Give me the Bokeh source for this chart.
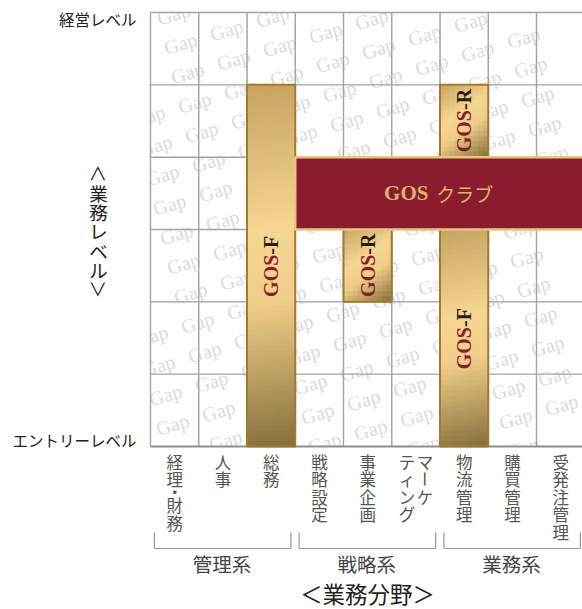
import math
from bokeh.plotting import figure
from bokeh.models import Range1d
from bokeh.core.properties import value
from bokeh.embed import file_html
from bokeh.resources import INLINE

# ---------------- data ----------------
categories = ["経理・財務", "人事", "総務", "戦略設定", "事業企画",
              "マーケティング", "物流管理", "購買管理", "受発注管理"]
# vertical (tategaki) columns per category, right column first
category_columns = {"マーケティング": ["マーケ", "ティング"]}
n_levels = 6
level_top_label = "経営レベル"
level_bottom_label = "エントリーレベル"
level_axis_title = "＜業務レベル＞"
x_axis_title = "＜業務分野＞"
groups = ["管理系", "戦略系", "業務系"]
group_first = ["経理・財務", "戦略設定", "物流管理"]
group_last = ["総務", "マーケティング", "受発注管理"]

bar_prefix = ["GOS", "GOS", "GOS", "GOS"]
bar_suffix = ["-F", "-R", "-R", "-F"]
bar_category = ["総務", "事業企画", "物流管理", "物流管理"]
bar_low = [0, 2, 4, 0]
bar_high = [5, 3, 5, 3]

club_prefix = "GOS"
club_suffix = "クラブ"
club_from = "戦略設定"
club_to = "受発注管理"
club_low = 3
club_high = 4

watermark_word = "Gap"

# ---------------- layout ----------------
W, H = 582, 609
PXU = 48.25     # px per category
PYU = 72.33     # px per level
GX, GY = 150.0, 446.0   # px of grid origin
X0 = (0 - GX) / PXU
X1 = X0 + W / PXU
Y1 = (GY - 0) / PYU
Y0 = Y1 - H / PYU

def dx(px):
    return (px - GX) / PXU

def dy(py):
    return (GY - py) / PYU

ci = {c: i for i, c in enumerate(categories)}
ncat = len(categories)

p = figure(width=W, height=H, x_range=Range1d(X0, X1), y_range=Range1d(Y0, Y1),
           output_backend="svg", toolbar_location=None,
           x_axis_location=None, y_axis_location=None, min_border=0,
           outline_line_color=None, background_fill_color="white",
           border_fill_color="white")

# ---------------- watermark texture ----------------
wx, wy = [], []
for j in range(-25, 30):
    for i in range(-10, 25):
        X = 180 + i * 46 + j * 7
        Y = 43 - i * 13.5 + j * 29.5
        if X - 18 > 128 and X + 18 < W - 1 and Y - 12 > 1 and Y + 12 < 468:
            wx.append(dx(X)); wy.append(dy(Y))
p.text(x=wx, y=wy, text=[watermark_word] * len(wx), angle=0.29,
       text_font=value("Liberation Serif"), text_font_size="20px",
       text_color="#dcdcdc", text_align="center", text_baseline="middle")

# mask outside grid
p.quad(left=[X0 - 1, 0, 0], right=[0, X1 + 1, X1 + 1],
       bottom=[Y0 - 1, n_levels, Y0 - 1], top=[Y1 + 1, Y1 + 1, 0],
       fill_color="white", line_color=None)

# ---------------- grid ----------------
vx0, vy0, vx1, vy1 = [], [], [], []
for k in range(ncat + 1):
    vx0.append(k); vx1.append(k); vy0.append(0); vy1.append(n_levels)
for k in range(1, n_levels + 1):
    vx0.append(0); vx1.append(ncat); vy0.append(k); vy1.append(k)
p.segment(x0=vx0, y0=vy0, x1=vx1, y1=vy1, line_color="#a3a3a3", line_width=1.4)
p.segment(x0=[0], y0=[0], x1=[ncat], y1=[0], line_color="#8e8e8e", line_width=2)

# ---------------- gold bars ----------------
stops = [(0.0, (196, 164, 96)), (0.4, (246, 214, 144)),
         (0.6, (241, 206, 137)), (1.0, (133, 112, 60))]

def grad(t):
    t = min(max(t, 0.0), 1.0)
    for (t0, c0), (t1, c1) in zip(stops[:-1], stops[1:]):
        if t <= t1:
            f = (t - t0) / (t1 - t0)
            return "#%02x%02x%02x" % tuple(int(round(a + (b - a) * f)) for a, b in zip(c0, c1))
    return "#%02x%02x%02x" % stops[-1][1]

gl, gr, gb, gt, gc = [], [], [], [], []
bl, br, bb, bt = [], [], [], []
for cat, lo, hi in zip(bar_category, bar_low, bar_high):
    x0 = ci[cat]; x1 = x0 + 1
    w = (x1 - x0) * PXU; h = (hi - lo) * PYU
    nx = max(4, int(round(w / 5))); ny = max(6, int(round(h / 5)))
    for a in range(nx):
        for b in range(ny):
            cxp = (a + 0.5) * w / nx; cyp = (b + 0.5) * h / ny
            t = (cxp * w + cyp * h) / (w * w + h * h)
            gl.append(x0 + a * (x1 - x0) / nx); gr.append(x0 + (a + 1) * (x1 - x0) / nx)
            gt.append(hi - b * (hi - lo) / ny); gb.append(hi - (b + 1) * (hi - lo) / ny)
            gc.append(grad(t))
    bl.append(x0); br.append(x1); bb.append(lo); bt.append(hi)
p.quad(left=gl, right=gr, bottom=gb, top=gt, fill_color=gc, line_color=gc, line_width=1)
p.quad(left=bl, right=br, bottom=bb, top=bt, fill_color=None,
       line_color="#a37a2e", line_width=2)

# ---------------- club ----------------
cl = ci[club_from]; cr = ci[club_to] + 1
p.quad(left=[cl], right=[cr], bottom=[club_low], top=[club_high],
       fill_color="#8b1c2f", line_color="#e8c680", line_width=2.5)
ccx = (cl + cr) / 2; ccy = (club_low + club_high) / 2
p.text(x=[ccx - 0.24], y=[ccy], text=[club_prefix], text_font=value("Liberation Serif"),
       text_font_style="bold", text_font_size="21px", text_color="#d9b46b",
       text_align="right", text_baseline="middle")
p.text(x=[ccx - 0.08], y=[ccy], text=[club_suffix], text_font=value("Noto Sans CJK JP"),
       text_font_size="19px", text_color="#d9b46b",
       text_align="left", text_baseline="middle")

# bar labels (vertical, reading upward)
lx, ly = [], []
for cat, lo, hi in zip(bar_category, bar_low, bar_high):
    lx.append(ci[cat] + 0.5)
    ly.append((lo + hi) / 2 + 11 / PYU)
p.text(x=lx, y=ly, text=bar_prefix, angle=math.pi / 2,
       text_font=value("Liberation Serif"), text_font_style="bold",
       text_font_size="20px", text_color="#8b1c2f",
       text_align="right", text_baseline="middle")
p.text(x=lx, y=ly, text=bar_suffix, angle=math.pi / 2,
       text_font=value("Liberation Serif"), text_font_style="bold",
       text_font_size="20px", text_color="#2a1c12",
       text_align="left", text_baseline="middle")

# ---------------- left labels ----------------
p.text(x=[dx(136)], y=[dy(18)], text=[level_top_label], text_font=value("Noto Sans CJK JP"),
       text_font_size="15.5px", text_color="#222222", text_align="right", text_baseline="middle")
p.text(x=[dx(136)], y=[dy(439)], text=[level_bottom_label], text_font=value("Noto Sans CJK JP"),
       text_font_size="15.5px", text_color="#222222", text_align="right", text_baseline="middle")

def stack(s, x, y_start_px, step_px, half=("・",), rot=("ー", "＜", "＞")):
    xs, ys, ts, angs = [], [], [], []
    ypx = y_start_px
    prev_half = False
    for k, ch in enumerate(s):
        hf = ch in half
        if k > 0:
            if hf or prev_half:
                ypx += step_px * 0.75
            else:
                ypx += step_px
        xs.append(x); ys.append(dy(ypx)); ts.append(ch)
        angs.append(-math.pi / 2 if ch in rot else 0.0)
        prev_half = hf
    return xs, ys, ts, angs

tx, ty, tt, ta = stack(level_axis_title, dx(98), 173, 19.3)
p.text(x=tx, y=ty, text=tt, angle=ta, text_font=value("Noto Sans CJK JP"),
       text_font_size="18.5px", text_color="#222222", text_align="center", text_baseline="middle")

# ---------------- category labels ----------------
cx_, cy_, ct_, ca_ = [], [], [], []
for c in categories:
    cols = category_columns.get(c, [c])
    nc = len(cols)
    for m, col in enumerate(cols):
        xoff = (nc - 1) / 2 - m
        xcol = ci[c] + 0.5 + xoff * 18 / PXU
        xs, ys, ts, angs = stack(col, xcol, 461, 17.5)
        cx_ += xs; cy_ += ys; ct_ += ts; ca_ += angs
p.text(x=cx_, y=cy_, text=ct_, angle=ca_, text_font=value("Noto Sans CJK JP"),
       text_font_size="16.5px", text_color="#555555", text_align="center", text_baseline="middle")

# ---------------- group brackets ----------------
sx0, sy0, sx1, sy1 = [], [], [], []
gx, gy = [], []
yb_top, yb_bot = dy(532), dy(548)
for g, a, b in zip(groups, group_first, group_last):
    l = ci[a] + 0.08; r = ci[b] + 1 - 0.09
    sx0 += [l, l, r]; sx1 += [l, r, r]
    sy0 += [yb_top, yb_bot, yb_bot]; sy1 += [yb_bot, yb_bot, yb_top]
    gx.append((ci[a] + ci[b] + 1) / 2 - 0.02)
    gy.append(dy(563))
p.segment(x0=sx0, y0=sy0, x1=sx1, y1=sy1, line_color="#9a9a9a", line_width=1.2)
p.text(x=gx, y=gy, text=groups, text_font=value("Noto Sans CJK JP"),
       text_font_size="19.5px", text_color="#444444", text_align="center", text_baseline="middle")

p.text(x=[dx(367)], y=[dy(592)], text=[x_axis_title], text_font=value("Noto Sans CJK JP"),
       text_font_size="22.5px", text_color="#222222", text_align="center", text_baseline="middle")

open("out.html", "w").write(file_html(p, INLINE))
